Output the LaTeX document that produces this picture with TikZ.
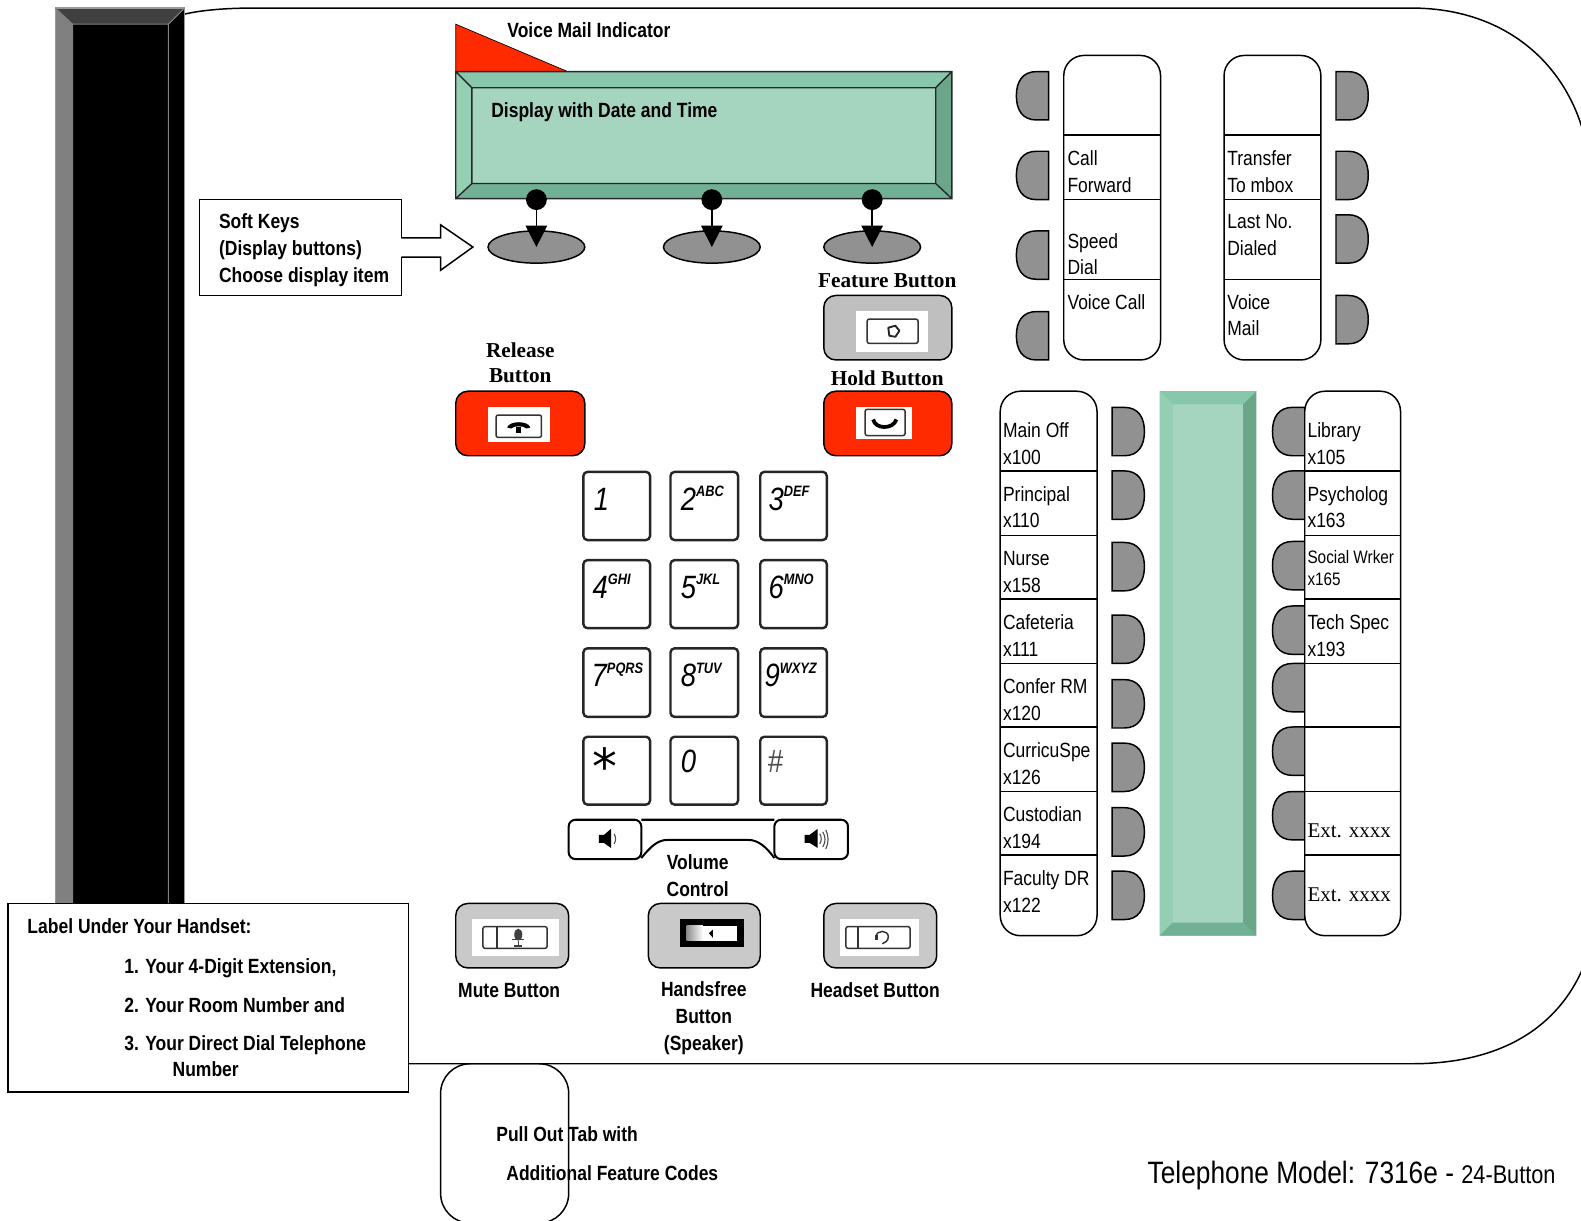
\documentclass[tikz,border=0pt]{standalone}
\usepackage{fontspec}
\setmainfont{Liberation Sans}
\newfontfamily\nar[FakeStretch=.85]{Liberation Sans}
\newfontfamily\ser{Liberation Serif}
\newfontfamily\dej{DejaVu Sans}
\definecolor{redb}{HTML}{FF2A00}
\definecolor{tabg}{HTML}{919191}
\definecolor{gc}{HTML}{A5D5BF}
\definecolor{gt}{HTML}{88C7AB}
\definecolor{gl}{HTML}{94CFB3}
\definecolor{gr}{HTML}{6BA68B}
\definecolor{gb}{HTML}{71B095}
\tikzset{
  x=.75pt,y=-.75pt,
  boldt/.style={inner sep=0pt,font=\nar\bfseries\fontsize{15.3}{20}\selectfont,text=black},
  bolds/.style={inner sep=0pt,font=\ser\bfseries\fontsize{15.8}{19}\selectfont,align=center},
  btnt/.style={inner sep=0pt,anchor=west,align=left,font=\nar\fontsize{15.3}{20}\selectfont},
  keybox/.style={draw=black!85,line width=1.8pt,rounded corners=3pt,fill=white},
  softkey/.style={ellipse,draw=black,line width=1.1pt,fill=tabg,minimum width=72pt,minimum height=24pt,inner sep=0pt},
  pin/.style={circle,fill=black,minimum size=15.5pt,inner sep=0pt},
  tabshape/.style={draw=black,line width=1.1pt,fill=tabg},
  colbox/.style={draw=black,line width=1.1pt,fill=white,rounded corners=15pt},
  icon/.style={draw=black!80,line width=1.1pt,rounded corners=1.5pt,fill=white},
  pushr/.style={draw=black,line width=1.1pt,rounded corners=9pt,fill=redb},
  pushg/.style={draw=black,line width=1.1pt,rounded corners=9pt},
  keyarrow/.style={draw=black,line width=1.1pt,-{Triangle[length=16pt,width=16pt]}},
}
\usetikzlibrary{arrows.meta,shapes.geometric}
\newcommand\tabL[2]{\path[tabshape] ({#1+32},#2) -- ({#1+20},#2) .. controls ({#1+6},#2) and (#1,{#2+10}) .. (#1,{#2+24}) .. controls (#1,{#2+38}) and ({#1+6},{#2+48}) .. ({#1+20},{#2+48}) -- ({#1+32},{#2+48}) -- cycle;}
\newcommand\tabR[2]{\path[tabshape] (#1,#2) -- ({#1+12},#2) .. controls ({#1+26},#2) and ({#1+32},{#2+10}) .. ({#1+32},{#2+24}) .. controls ({#1+32},{#2+38}) and ({#1+26},{#2+48}) .. ({#1+12},{#2+48}) -- (#1,{#2+48}) -- cycle;}
\newcommand\Key[8]{% name, x1,y1,x2,y2, dx, digit, letters
  \path[keybox] (#2,#3) rectangle (#4,#5);
  \node[inner sep=0pt,anchor=base west] (#1) at ({#2+#6},{#3+38}) {\nar\itshape\fontsize{24}{24}\selectfont #7\raisebox{10pt}{\bfseries\fontsize{11.2}{10}\selectfont #8}};}
\newcommand\Dv[3]{\draw[line width=1.1pt] (#1,#3) -- (#2,#3);}
\begin{document}
\begin{tikzpicture}
\useasboundingbox (0,0) rectangle (1568,1210);
\begin{scope}
\clip (0,0) rectangle (1568,1210);
% phone outline
\draw[line width=1.1pt] (183,14) .. controls (200,10) and (225,8) .. (250,8) -- (1400,8) .. controls (1490,8) and (1550,60) .. (1570,130);
\draw[line width=1.1pt] (400,1055) -- (1400,1055) .. controls (1490,1055) and (1545,1018) .. (1570,960);
% handset panel
\fill[black] (55,8) rectangle (183,900);
\fill[black!50] (55,8) -- (72,24) -- (72,900) -- (55,900) -- cycle;
\fill[black!75] (55,8) -- (183,8) -- (167,24) -- (72,24) -- cycle;
\draw[black!40,line width=.9pt] (55,900) -- (55,8) -- (183,8) -- (183,900);
\draw[black!50,line width=.7pt] (55,8) -- (72,24) -- (167,24) -- (183,8) (72,24) -- (72,900) (167,24) -- (167,900);
% voice mail indicator
\path[fill=redb,draw=black,line width=.5pt] (452,24) -- (452,71) -- (563,71) -- cycle;
\node[boldt,anchor=west] (vmi) at (503,30) {Voice Mail Indicator};
% display
\fill[gc] (452,71) rectangle (944,197);
\fill[gt] (452,71) -- (944,71) -- (928,87) -- (468,87) -- cycle;
\fill[gl] (452,71) -- (468,87) -- (468,182) -- (452,197) -- cycle;
\fill[gr] (944,71) -- (928,87) -- (928,182) -- (944,197) -- cycle;
\fill[gb] (452,197) -- (468,182) -- (928,182) -- (944,197) -- cycle;
\draw[line width=1pt,black!85] (452,71) rectangle (944,197) (468,87) rectangle (928,182) (452,71) -- (468,87) (944,71) -- (928,87) (452,197) -- (468,182) (944,197) -- (928,182);
\node[boldt,anchor=west] (disp) at (487,111) {Display with Date and Time};
% soft keys
\node[softkey] (s1) at (532,245) {};
\node[softkey] (s2) at (706,245) {};
\node[softkey] (s3) at (865,245) {};
\node[pin] (p1) at (532,198) {};
\node[pin] (p2) at (706,198) {};
\node[pin] (p3) at (865,198) {};
\draw[keyarrow] (p1.center) -- (s1.center);
\draw[keyarrow] (p2.center) -- (s2.center);
\draw[keyarrow] (p3.center) -- (s3.center);
% soft keys label
\draw[line width=1.1pt] (398,236) -- (398,198) -- (198,198) -- (198,293) -- (398,293) -- (398,255);
\path[draw=black,line width=1.1pt,fill=white] (398,236) -- (437,236) -- (437,223) -- (469,245) -- (437,268) -- (437,255) -- (398,255);
\node[boldt,anchor=west,align=left] (softl) at (217,248) {Soft Keys\\(Display buttons)\\Choose display item};
% feature / release / hold
\node[bolds] (featl) at (880,278) {Feature Button};
\path[pushg,fill=black!25] (817,293) rectangle (944,357);
\fill[white] (849,308.5) rectangle (920.5,349);
\path[icon] (860,316.5) rectangle (910.5,340.5);
\draw[black!85,line width=1.4pt,line join=round] (881,325) -- (888,323) -- (892,328) -- (888,334) -- (882,333) -- cycle;
\node[bolds] (rell) at (516,360) {Release\\Button};
\path[pushr] (452,388) rectangle (580,452);
\fill[white] (484,403.7) rectangle (545.5,438);
\path[icon] (492,411.6) rectangle (537,433.8);
\fill[black] (503,424) .. controls (505,417) and (524,417) .. (526,424) -- (522,425) .. controls (520,422) and (509,422) .. (507,425) -- cycle;
\fill[black] (512,423) rectangle (517,429);
\node[bolds] (holdl) at (880,375) {Hold Button};
\path[pushr] (817,388) rectangle (944,452);
\fill[white] (849,403.7) rectangle (904,435.6);
\path[icon] (858,406) rectangle (897.6,432);
\draw[black,line width=2.8pt] (866,416) .. controls (868,426) and (886,426) .. (889,416);
% keypad
\Key{k1}{578.6}{468}{644.7}{535.6}{10}{1}{}
\Key{k2}{665}{468}{732}{535.6}{10}{2}{ABC}
\Key{k3}{754}{468}{820}{535.6}{8}{3}{DEF}
\Key{k4}{578.6}{555.5}{644.7}{623}{9}{4}{GHI}
\Key{k5}{665}{555.5}{732}{623}{10}{5}{JKL}
\Key{k6}{754}{555.5}{820}{623}{8}{6}{MNO}
\Key{k7}{578.6}{643}{644.7}{711}{8}{7}{PQRS}
\Key{k8}{665}{643}{732}{711}{10}{8}{TUV}
\Key{k9}{754}{643}{820}{711}{4}{9}{WXYZ}
\path[keybox] (578.6,730.7) rectangle (644.7,798);
\node[inner sep=0pt,anchor=base] (kstar) at (600,778) {\dej\fontsize{37}{37}\selectfont *};
\path[keybox] (665,730.7) rectangle (732,798);
\node[inner sep=0pt,anchor=base west] (k0) at (675,766) {\nar\itshape\fontsize{24}{24}\selectfont 0};
\path[keybox] (754,730.7) rectangle (820,798);
\node[inner sep=0pt,anchor=base west,text=black!70] (khash) at (761,766) {\nar\itshape\fontsize{24}{24}\selectfont \#};
% volume
\draw[line width=1.5pt,black] (636,813) -- (768,813) (636,851) .. controls (645,840) and (652,833) .. (662,833) -- (742,833) .. controls (752,833) and (760,840) .. (768,851);
\path[draw=black,line width=1.5pt,rounded corners=5pt,fill=white] (564,813) rectangle (636,852);
\path[draw=black,line width=1.5pt,rounded corners=5pt,fill=white] (768,813) rectangle (841,852);
\fill[black] (594,828) -- (599,828) -- (606,822) -- (606,841) -- (599,836) -- (594,836) -- cycle;
\draw[black!70,line width=.8pt] (609,827) .. controls (611,830) and (611,834) .. (609,837);
\fill[black] (798,828) -- (803,828) -- (811,822) -- (811,841) -- (803,836) -- (798,836) -- cycle;
\draw[black!70,line width=.8pt] (813,827) .. controls (815,830) and (815,834) .. (813,837) (816,825) .. controls (819,830) and (819,835) .. (816,840) (819,823) .. controls (822,829) and (822,836) .. (819,842);
\node[boldt,align=center] (voll) at (692,868) {Volume\\Control};
% mute, handsfree, headset
\path[pushg,fill=black!21] (452,896) rectangle (564,960);
\fill[white] (468,911.6) rectangle (554.6,948);
\path[icon] (479,919) rectangle (542.6,940.5);
\draw[black!80,line width=.9pt] (493,919) -- (493,940.5);
\fill[black!75] (514,927) ellipse (4 and 6);
\draw[black!75,line width=1.1pt] (508,932) -- (520,932) (514,933) -- (514,938) (510,938) -- (518,938);
\path[pushg,fill=black!21] (643,896) rectangle (754,960);
\fill[black] (674.6,911.6) rectangle (738,939);
\shade[left color=black!45,right color=white] (681,918) rectangle (697,933);
\fill[white] (697,918) rectangle (730.6,933);
\fill[black] (703,925.5) -- (707,922) -- (707,930) -- cycle;
\path[pushg,fill=black!21] (817,896) rectangle (929,960);
\fill[white] (833,911.6) rectangle (911.6,948);
\path[icon] (839,919) rectangle (902.6,940.5);
\draw[black!80,line width=.9pt] (851,919) -- (851,940.5);
\draw[black!80,line width=1.1pt] (869,929) .. controls (869,922) and (881,922) .. (881,929) .. controls (881,933) and (878,935) .. (875,936);
\fill[black!80] (868,927) rectangle (871,932);
\node[boldt] (mutel) at (505,982) {Mute Button};
\node[boldt,align=center] (handl) at (698,1009.5) {Handsfree\\Button\\(Speaker)};
\node[boldt] (headl) at (868,982) {Headset Button};
\end{scope}
% label box
\path[draw=black,line width=1.1pt,fill=white] (8,896) rectangle (405,1083);
\node[boldt,anchor=west] (lb0) at (27,919) {Label Under Your Handset:};
\node[boldt,anchor=west] (lb1) at (123,960) {1. Your 4-Digit Extension,};
\node[boldt,anchor=west] (lb2) at (123,996.5) {2. Your Room Number and};
\node[boldt,anchor=west] (lb3) at (123,1037) {3. Your Direct Dial Telephone};
\node[boldt,anchor=west] (lb4) at (171,1060) {Number};
% pull out tab
\begin{scope}
\clip (0,1000) rectangle (1568,1210);
\draw[line width=1.1pt,rounded corners=22pt] (437,1055) rectangle (564,1213);
\end{scope}
\node[boldt,anchor=west] (po1) at (492,1125) {Pull Out Tab with};
\node[boldt,anchor=west] (po2) at (502,1163) {Additional Feature Codes};
\node[inner sep=0pt,anchor=base east] (model) at (1543,1174) {\nar\fontsize{23}{28}\selectfont Telephone Model: 7316e - \fontsize{19}{28}\selectfont 24-Button};
% upper button columns
\tabL{1008}{71}\tabL{1008}{150}\tabL{1008}{229}\tabL{1008}{309}
\path[colbox] (1055,55) rectangle (1151,357);
\Dv{1055}{1151}{134}\Dv{1055}{1151}{198}\Dv{1055}{1151}{277}
\node[btnt] (u1) at (1058.5,170.5) {Call\\Forward};
\node[btnt] (u2) at (1058.5,252) {Speed\\Dial};
\node[btnt] (u3) at (1058.5,299.5) {Voice Call};
\tabR{1325}{71}\tabR{1325}{150}\tabR{1325}{213}\tabR{1325}{293}
\path[colbox] (1214,55) rectangle (1310,357);
\Dv{1214}{1310}{134}\Dv{1214}{1310}{198}\Dv{1214}{1310}{277}
\node[btnt] (v1) at (1217,170.5) {Transfer\\To mbox};
\node[btnt] (v2) at (1217,233.5) {Last No.\\Dialed};
\node[btnt] (v3) at (1217,312.5) {Voice\\Mail};
% lower left column
\tabR{1103}{404}\tabR{1103}{467}\tabR{1103}{538}\tabR{1103}{610}\tabR{1103}{674}\tabR{1103}{737}\tabR{1103}{801}\tabR{1103}{864}
\path[colbox] (992,388) rectangle (1088,928);
\foreach \yy in {467,531,594,658,721,785,848}{\Dv{992}{1088}{\yy}}
\node[btnt] (a1) at (994.5,440) {Main Off\\x100};
\node[btnt] (a2) at (994.5,503) {Principal\\x110};
\node[btnt] (a3) at (994.5,567) {Nurse\\x158};
\node[btnt] (a4) at (994.5,630.5) {Cafeteria\\x111};
\node[btnt] (a5) at (994.5,693.5) {Confer RM\\x120};
\node[btnt] (a6) at (994.5,757) {CurricuSpe\\x126};
\node[btnt] (a7) at (994.5,821) {Custodian\\x194};
\node[btnt] (a8) at (994.5,884.5) {Faculty DR\\x122};
% label strip
\fill[gc] (1150,388) rectangle (1246,928);
\fill[gt] (1150,388) -- (1246,388) -- (1233,401) -- (1163,401) -- cycle;
\fill[gl] (1150,388) -- (1163,401) -- (1163,915) -- (1150,928) -- cycle;
\fill[gr] (1246,388) -- (1233,401) -- (1233,915) -- (1246,928) -- cycle;
\fill[gb] (1150,928) -- (1163,915) -- (1233,915) -- (1246,928) -- cycle;
% lower right column
\tabL{1262}{404}\tabL{1262}{467}\tabL{1262}{537}\tabL{1262}{601}\tabL{1262}{658}\tabL{1262}{721}\tabL{1262}{785}\tabL{1262}{864}
\path[colbox] (1294,388) rectangle (1389,928);
\foreach \yy in {467,531,594,658,721,785,848}{\Dv{1294}{1389}{\yy}}
\node[btnt] (b1) at (1296.5,440) {Library\\x105};
\node[btnt] (b2) at (1296.5,503) {Psycholog\\x163};
\node[btnt,font=\nar\fontsize{13.4}{16.5}\selectfont] (b3) at (1296.5,563) {Social Wrker\\x165};
\node[btnt] (b4) at (1296.5,630.5) {Tech Spec\\x193};
\node[btnt,font=\ser\fontsize{15.6}{20}\selectfont] (b7) at (1296.5,824) {Ext. xxxx};
\node[btnt,font=\ser\fontsize{15.6}{20}\selectfont] (b8) at (1296.5,887) {Ext. xxxx};
\end{tikzpicture}
\end{document}
